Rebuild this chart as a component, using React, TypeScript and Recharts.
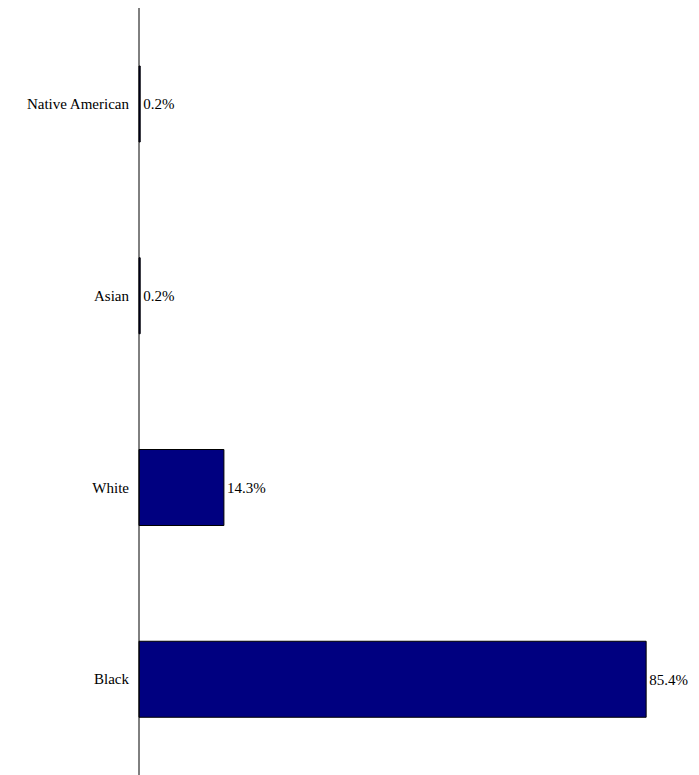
import { Bar, BarChart, LabelList, XAxis, YAxis } from "recharts";

const categories = ["Native American", "Asian", "White", "Black"];
const shares = [0.2, 0.2, 14.3, 85.4];

const data = categories.map((name, i) => ({ name, value: shares[i] }));

const FONT = "'Liberation Serif', 'Times New Roman', serif";

export default function App() {
  return (
    <div style={{ position: "absolute", left: 0, top: 0, fontFamily: FONT }}>
      <BarChart
        layout="vertical"
        width={699}
        height={775}
        data={data}
        margin={{ top: 8, right: 0, left: 0, bottom: 0 }}
        barCategoryGap={0}
      >
        <XAxis type="number" domain={[0, 94.3]} hide />
        <YAxis
          type="category"
          dataKey="name"
          width={139}
          tickLine={false}
          axisLine={{ stroke: "#000" }}
          tickMargin={4}
          tick={{ fill: "#000", fontSize: 15, fontFamily: FONT }}
        />
        <Bar dataKey="value" fill="#000080" stroke="#000" strokeWidth={1} barSize={76} isAnimationActive={false}>
          <LabelList
            dataKey="value"
            position="right"
            offset={3}
            formatter={(v: number) => `${v}%`}
            style={{ fill: "#000", fontSize: 15, fontFamily: FONT }}
          />
        </Bar>
      </BarChart>
    </div>
  );
}
